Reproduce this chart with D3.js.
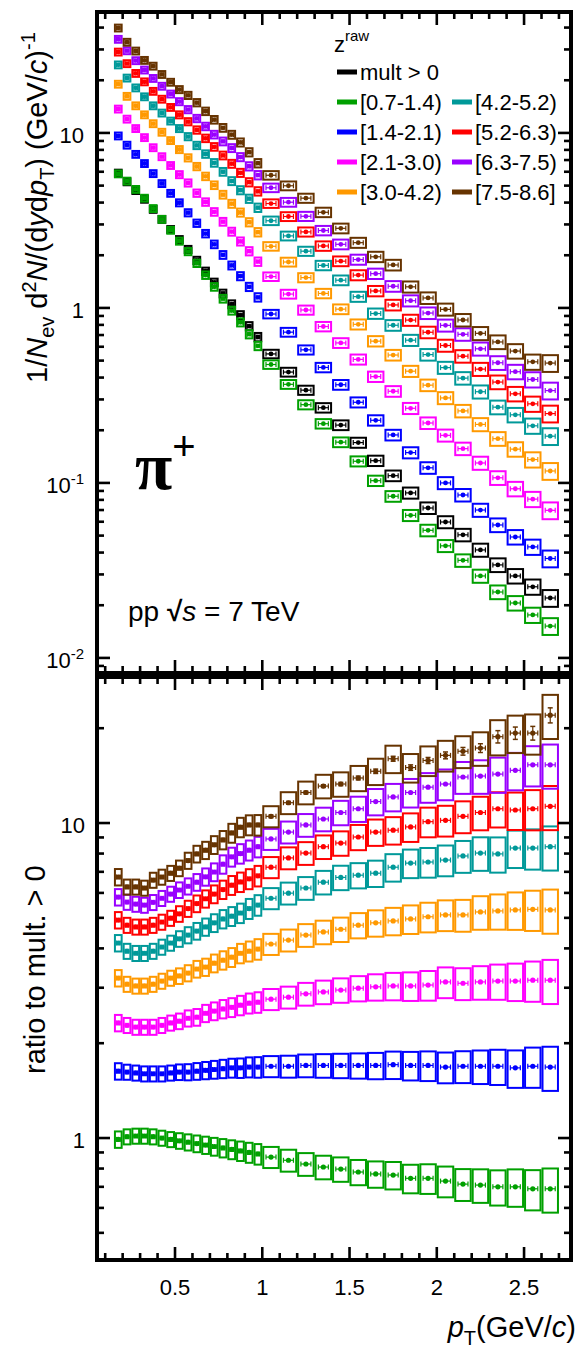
<!DOCTYPE html>
<html>
<head>
<meta charset="utf-8">
<script src="https://cdn.jsdelivr.net/npm/d3@7"></script>
<style>
  body { margin: 0; background: #fff; }
  svg { display: block; }
  text { font-family: "Liberation Sans", Arial, Helvetica, sans-serif; fill: #000; }
</style>
</head>
<body>
<svg id="chart" width="578" height="1352"></svg>
<script>
// pT bin edges (GeV/c)
const ptEdges = [0.15, 0.20, 0.25, 0.30, 0.35, 0.40, 0.45, 0.50, 0.55, 0.60, 0.65, 0.70, 0.75, 0.80, 0.85, 0.90, 0.95, 1.00,
                 1.10, 1.20, 1.30, 1.40, 1.50, 1.60, 1.70, 1.80, 1.90, 2.00, 2.10, 2.20, 2.30, 2.40, 2.50, 2.60, 2.70];

// multiplicity classes
const classNames = ["mult > 0", "[0.7-1.4)", "[1.4-2.1)", "[2.1-3.0)", "[3.0-4.2)", "[4.2-5.2)", "[5.2-6.3)", "[6.3-7.5)", "[7.5-8.6]"];
const classColors = ["#000000", "#00a000", "#0000ff", "#ff00ff", "#ff9900", "#009999", "#ff0000", "#9900ff", "#663300"];

// pi+ spectra, 1/Nev d2N/(dy dpT)
const specMult = [5.90, 5.26, 4.69, 4.18, 3.66, 3.21, 2.81, 2.46, 2.16, 1.87, 1.62, 1.40, 1.21, 1.05, 0.910, 0.787, 0.682,
                  0.546, 0.430, 0.339, 0.269, 0.214, 0.170, 0.134, 0.110, 0.0877, 0.0719, 0.0598, 0.0505, 0.0414, 0.0340, 0.0294, 0.0255, 0.0220];
const spec07 = [5.84, 5.31, 4.76, 4.24, 3.70, 3.21, 2.78, 2.41, 2.10, 1.80, 1.54, 1.32, 1.13, 0.966, 0.828, 0.708, 0.607,
                0.475, 0.366, 0.280, 0.218, 0.171, 0.133, 0.103, 0.0839, 0.0653, 0.0536, 0.0437, 0.0361, 0.0294, 0.0238, 0.0206, 0.0176, 0.0152];
const spec14 = [9.62, 8.52, 7.55, 6.69, 5.86, 5.14, 4.52, 3.99, 3.50, 3.05, 2.66, 2.31, 2.01, 1.75, 1.52, 1.32, 1.15,
                0.923, 0.727, 0.576, 0.457, 0.364, 0.289, 0.228, 0.188, 0.149, 0.122, 0.100, 0.0853, 0.0700, 0.0575, 0.0491, 0.0431, 0.0370];
const spec21 = [13.7, 12.0, 10.6, 9.41, 8.24, 7.32, 6.52, 5.78, 5.18, 4.53, 4.03, 3.54, 3.11, 2.73, 2.40, 2.11, 1.84,
                1.51, 1.20, 0.973, 0.783, 0.631, 0.508, 0.405, 0.334, 0.267, 0.220, 0.187, 0.157, 0.130, 0.107, 0.0926, 0.0808, 0.0697];
const spec30 = [19.0, 16.2, 14.3, 12.7, 11.3, 10.1, 9.05, 8.04, 7.21, 6.43, 5.65, 5.03, 4.44, 3.94, 3.51, 3.09, 2.71,
                2.25, 1.83, 1.49, 1.21, 0.984, 0.806, 0.646, 0.538, 0.435, 0.362, 0.306, 0.258, 0.216, 0.179, 0.156, 0.136, 0.117];
const spec42 = [24.5, 20.6, 18.1, 16.1, 14.3, 13.0, 11.7, 10.6, 9.53, 8.49, 7.58, 6.75, 6.00, 5.31, 4.71, 4.21, 3.74,
                3.15, 2.58, 2.11, 1.75, 1.44, 1.16, 0.929, 0.796, 0.654, 0.541, 0.456, 0.397, 0.332, 0.271, 0.245, 0.212, 0.185];
const spec52 = [29.0, 24.9, 21.9, 19.6, 17.3, 15.6, 14.0, 12.7, 11.6, 10.4, 9.32, 8.33, 7.44, 6.67, 5.92, 5.23, 4.64,
                3.95, 3.33, 2.72, 2.26, 1.85, 1.54, 1.25, 1.04, 0.852, 0.726, 0.610, 0.530, 0.447, 0.377, 0.323, 0.283, 0.249];
const spec63 = [34.3, 29.5, 25.9, 22.9, 20.5, 18.5, 16.7, 15.1, 13.6, 12.1, 10.9, 9.79, 8.95, 8.20, 7.28, 6.45, 5.74,
                4.86, 4.02, 3.34, 2.77, 2.31, 1.89, 1.57, 1.33, 1.10, 0.935, 0.795, 0.707, 0.584, 0.486, 0.432, 0.390, 0.337];
const spec75 = [39.8, 33.0, 29.4, 26.0, 24.1, 21.6, 19.5, 17.7, 16.4, 14.9, 13.3, 11.9, 10.7, 9.77, 8.83, 7.76, 6.72,
                5.73, 4.99, 4.24, 3.52, 2.85, 2.36, 1.96, 1.76, 1.32, 1.14, 0.981, 0.853, 0.716, 0.639, 0.567, 0.492, 0.484];

// ratios to mult > 0
const ratio07 = [0.99, 1.01, 1.015, 1.015, 1.01, 1.00, 0.99, 0.98, 0.97, 0.96, 0.95, 0.94, 0.93, 0.92, 0.91, 0.90, 0.89,
                 0.87, 0.85, 0.827, 0.809, 0.797, 0.78, 0.769, 0.763, 0.745, 0.745, 0.73, 0.714, 0.709, 0.70, 0.70, 0.69, 0.69];
const ratio14 = [1.63, 1.62, 1.61, 1.60, 1.60, 1.60, 1.61, 1.62, 1.62, 1.63, 1.64, 1.65, 1.66, 1.67, 1.67, 1.68, 1.68,
                 1.69, 1.69, 1.70, 1.70, 1.70, 1.70, 1.70, 1.71, 1.70, 1.70, 1.68, 1.69, 1.69, 1.69, 1.67, 1.69, 1.68];
const ratio21 = [2.32, 2.28, 2.25, 2.25, 2.25, 2.28, 2.32, 2.35, 2.40, 2.42, 2.49, 2.53, 2.57, 2.60, 2.64, 2.68, 2.70,
                 2.76, 2.80, 2.87, 2.91, 2.95, 2.99, 3.02, 3.04, 3.04, 3.06, 3.13, 3.10, 3.13, 3.15, 3.15, 3.17, 3.17];
const ratio30 = [3.22, 3.08, 3.04, 3.04, 3.08, 3.15, 3.22, 3.27, 3.34, 3.44, 3.49, 3.59, 3.67, 3.75, 3.86, 3.92, 3.98,
                 4.13, 4.25, 4.41, 4.51, 4.60, 4.74, 4.82, 4.89, 4.96, 5.04, 5.11, 5.11, 5.22, 5.26, 5.30, 5.32, 5.30];
const ratio42 = [4.16, 3.92, 3.86, 3.86, 3.92, 4.04, 4.16, 4.29, 4.41, 4.54, 4.68, 4.82, 4.96, 5.06, 5.18, 5.35, 5.49,
                 5.77, 5.99, 6.22, 6.49, 6.72, 6.83, 6.93, 7.24, 7.46, 7.52, 7.63, 7.86, 8.03, 7.98, 8.33, 8.33, 8.41];
const ratio52 = [4.92, 4.74, 4.68, 4.68, 4.74, 4.85, 4.99, 5.15, 5.35, 5.55, 5.75, 5.95, 6.15, 6.35, 6.50, 6.65, 6.80,
                 7.24, 7.75, 8.03, 8.41, 8.64, 9.03, 9.36, 9.49, 9.72, 10.1, 10.2, 10.5, 10.8, 11.1, 11.0, 11.1, 11.3];
const ratio63 = [5.82, 5.61, 5.53, 5.49, 5.60, 5.77, 5.95, 6.13, 6.30, 6.49, 6.75, 6.99, 7.40, 7.81, 8.00, 8.20, 8.41,
                 8.90, 9.36, 9.86, 10.3, 10.8, 11.1, 11.7, 12.1, 12.5, 13.0, 13.3, 14.0, 14.1, 14.3, 14.7, 15.3, 15.3];
const ratio75 = [6.74, 6.27, 6.27, 6.22, 6.59, 6.74, 6.93, 7.19, 7.60, 7.98, 8.20, 8.53, 8.84, 9.30, 9.70, 9.86, 9.86,
                 10.5, 11.6, 12.5, 13.1, 13.3, 13.9, 14.6, 16.0, 15.0, 15.8, 16.4, 16.9, 17.3, 18.8, 19.3, 19.3, 22.0];

// relative systematic uncertainties (boxes)
const sysSpec = [0.045, 0.045, 0.045, 0.045, 0.045, 0.045, 0.045, 0.046, 0.047, 0.048, 0.049, 0.050, 0.051, 0.052, 0.053, 0.054, 0.055,
                 0.056, 0.058, 0.060, 0.062, 0.064, 0.066, 0.068, 0.070, 0.073, 0.076, 0.079, 0.082, 0.086, 0.090, 0.095, 0.100, 0.110];
const sysRatio = [0.060, 0.055, 0.055, 0.055, 0.055, 0.055, 0.055, 0.057, 0.059, 0.061, 0.063, 0.065, 0.067, 0.069, 0.071, 0.073, 0.075,
                  0.077, 0.080, 0.083, 0.086, 0.089, 0.092, 0.096, 0.100, 0.104, 0.108, 0.112, 0.116, 0.122, 0.128, 0.136, 0.146, 0.160];
// relative statistical uncertainties of the highest class ratio
const statRatio75 = [0.01, 0.01, 0.01, 0.01, 0.01, 0.01, 0.01, 0.01, 0.01, 0.01, 0.01, 0.01, 0.01, 0.01, 0.01, 0.01, 0.01,
                     0.01, 0.01, 0.01, 0.01, 0.012, 0.014, 0.016, 0.018, 0.02, 0.022, 0.025, 0.028, 0.032, 0.045, 0.045, 0.05, 0.055];

// axis ticks
const xMajor = [0.5, 1, 1.5, 2, 2.5];
const xMinor = [0.1, 0.2, 0.3, 0.4, 0.6, 0.7, 0.8, 0.9, 1.1, 1.2, 1.3, 1.4, 1.6, 1.7, 1.8, 1.9, 2.1, 2.2, 2.3, 2.4, 2.6, 2.7];
const ySpecMajor = [0.01, 0.1, 1, 10];
const ySpecMajorLabels = [["10", "-2"], ["10", "-1"], ["1", ""], ["10", ""]];
const yRatioMajor = [1, 10];
const yRatioMajorLabels = ["1", "10"];

const spectra = [specMult, spec07, spec14, spec21, spec30, spec42, spec52, spec63, spec75];
const ratios = [null, ratio07, ratio14, ratio21, ratio30, ratio42, ratio52, ratio63, ratio75];

// ---------------- layout ----------------
const svg = d3.select("#chart");
const L = 97, R = 571;
const top1 = 12, bot1 = 673;
const top2 = 677, bot2 = 1260;

const x = d3.scaleLinear().domain([0.053, 2.769]).range([L, R]);
const ySpec = d3.scaleLog().domain([0.00820, 49.1]).range([bot1, top1]);
const yRatio = d3.scaleLog().domain([0.41, 29.08]).range([bot2, top2]);

function minorLogTicks(domain) {
  const out = [];
  const lo = Math.floor(Math.log10(domain[0])), hi = Math.ceil(Math.log10(domain[1]));
  for (let e = lo; e <= hi; e++) {
    for (let m = 2; m <= 9; m++) {
      const v = m * Math.pow(10, e);
      if (v > domain[0] && v < domain[1]) out.push(v);
    }
  }
  return out;
}

const MAJ = 13, MIN = 7;

function drawFrame(yScale, yTop, yBot, yMajor) {
  const g = svg.append("g");
  const tickStyle = s => s.attr("stroke", "#000").attr("stroke-width", 2.6);
  // x ticks on bottom (pointing up) and top (pointing down)
  xMajor.forEach(v => {
    tickStyle(g.append("line").attr("x1", x(v)).attr("x2", x(v)).attr("y1", yBot).attr("y2", yBot - MAJ));
    tickStyle(g.append("line").attr("x1", x(v)).attr("x2", x(v)).attr("y1", yTop).attr("y2", yTop + MAJ));
  });
  xMinor.forEach(v => {
    tickStyle(g.append("line").attr("x1", x(v)).attr("x2", x(v)).attr("y1", yBot).attr("y2", yBot - MIN));
    tickStyle(g.append("line").attr("x1", x(v)).attr("x2", x(v)).attr("y1", yTop).attr("y2", yTop + MIN));
  });
  yMajor.forEach(v => {
    tickStyle(g.append("line").attr("x1", L).attr("x2", L + MAJ).attr("y1", yScale(v)).attr("y2", yScale(v)));
    tickStyle(g.append("line").attr("x1", R).attr("x2", R - MAJ).attr("y1", yScale(v)).attr("y2", yScale(v)));
  });
  minorLogTicks(yScale.domain()).forEach(v => {
    tickStyle(g.append("line").attr("x1", L).attr("x2", L + MIN).attr("y1", yScale(v)).attr("y2", yScale(v)));
    tickStyle(g.append("line").attr("x1", R).attr("x2", R - MIN).attr("y1", yScale(v)).attr("y2", yScale(v)));
  });
  g.append("rect").attr("x", L).attr("y", yTop).attr("width", R - L).attr("height", yBot - yTop)
    .attr("fill", "none").attr("stroke", "#000").attr("stroke-width", 4);
}

function drawPoints(values, sys, stat, yScale, color, mr) {
  const g = svg.append("g");
  values.forEach((v, i) => {
    const lo = ptEdges[i], hi = ptEdges[i + 1];
    const cx = x((lo + hi) / 2);
    const x0 = x(lo) + 1, x1 = x(hi) - 1;
    const yHi = yScale(v * (1 + sys[i])), yLo = yScale(v * (1 - sys[i]));
    g.append("rect").attr("x", x0).attr("y", yHi).attr("width", x1 - x0).attr("height", yLo - yHi)
      .attr("fill", "none").attr("stroke", color).attr("stroke-width", 2);
    const cy = yScale(v);
    const hw = Math.min(5, (x1 - x0) / 2 - 1.5);
    g.append("line").attr("x1", cx - hw).attr("x2", cx + hw).attr("y1", cy).attr("y2", cy)
      .attr("stroke", color).attr("stroke-width", 1.2);
    [cx - hw, cx + hw].forEach(xc => g.append("line").attr("x1", xc).attr("x2", xc)
      .attr("y1", cy - 2.5).attr("y2", cy + 2.5).attr("stroke", color).attr("stroke-width", 1.2));
    if (stat) {
      const s1 = yScale(v * (1 + stat[i])), s0 = yScale(v * (1 - stat[i]));
      g.append("line").attr("x1", cx).attr("x2", cx).attr("y1", s1).attr("y2", s0)
        .attr("stroke", color).attr("stroke-width", 1.2);
      [s1, s0].forEach(yc => g.append("line").attr("x1", cx - 2.5).attr("x2", cx + 2.5)
        .attr("y1", yc).attr("y2", yc).attr("stroke", color).attr("stroke-width", 1.5));
    }
    g.append("circle").attr("cx", cx).attr("cy", cy).attr("r", mr).attr("fill", color);
  });
}

// ---------------- top panel: spectra ----------------
spectra.forEach((s, k) => drawPoints(s, sysSpec, null, ySpec, classColors[k], 2.4));
drawFrame(ySpec, top1, bot1, ySpecMajor);

// ---------------- bottom panel: ratios ----------------
ratios.forEach((r, k) => {
  if (!r) return;
  drawPoints(r, sysRatio, k === 8 ? statRatio75 : null, yRatio, classColors[k], 2.6);
});
drawFrame(yRatio, top2, bot2, yRatioMajor);

// ---------------- tick labels ----------------
const lab = svg.append("g").style("font-size", "22px");
ySpecMajor.forEach((v, i) => {
  const [base, sup] = ySpecMajorLabels[i];
  const t = lab.append("text").attr("y", ySpec(v) + 10).attr("x", 84).attr("text-anchor", "end");
  t.append("tspan").text(base);
  if (sup) t.append("tspan").attr("dy", -9).style("font-size", "15px").text(sup);
});
yRatioMajor.forEach((v, i) => {
  lab.append("text").attr("x", 85).attr("y", yRatio(v) + 10).attr("text-anchor", "end").text(yRatioMajorLabels[i]);
});
xMajor.forEach(v => {
  lab.append("text").attr("x", x(v)).attr("y", 1295).attr("text-anchor", "middle").text(String(v));
});

// ---------------- axis titles ----------------
const yt1 = svg.append("text").attr("transform", "translate(47,383) rotate(-90)").style("font-size", "29px");
yt1.append("tspan").text("1/");
yt1.append("tspan").style("font-style", "italic").text("N");
yt1.append("tspan").attr("dy", 7).style("font-size", "20px").text("ev");
yt1.append("tspan").attr("dy", -7).text(" d");
yt1.append("tspan").attr("dy", -11).style("font-size", "20px").text("2");
yt1.append("tspan").attr("dy", 11).style("font-style", "italic").text("N");
yt1.append("tspan").text("/(d");
yt1.append("tspan").style("font-style", "italic").text("y");
yt1.append("tspan").text("d");
yt1.append("tspan").style("font-style", "italic").text("p");
yt1.append("tspan").attr("dy", 7).style("font-size", "20px").text("T");
yt1.append("tspan").attr("dy", -7).text(") (GeV/");
yt1.append("tspan").style("font-style", "italic").text("c");
yt1.append("tspan").text(")");
yt1.append("tspan").attr("dy", -12).style("font-size", "20px").text("-1");

svg.append("text").attr("transform", "translate(45,1074) rotate(-90)").style("font-size", "29px").text("ratio to mult. > 0");

const xt = svg.append("text").attr("x", 576).attr("y", 1337).attr("text-anchor", "end").style("font-size", "29px");
xt.append("tspan").style("font-style", "italic").text("p");
xt.append("tspan").attr("dy", 8).style("font-size", "20px").text("T");
xt.append("tspan").attr("dy", -8).text("(GeV/");
xt.append("tspan").style("font-style", "italic").text("c");
xt.append("tspan").text(")");

// ---------------- annotations ----------------
const pi = svg.append("text").attr("x", 135).attr("y", 489).style("font-family", "'Liberation Serif', 'DejaVu Serif', serif").style("font-size", "68px");
pi.append("tspan").style("font-weight", "bold").text("\u03c0");
pi.append("tspan").attr("dy", -29).style("font-size", "40px").style("font-family", "'Liberation Sans', Arial, sans-serif").text("+");

const pp = svg.append("text").attr("x", 128).attr("y", 621).style("font-size", "28px");
pp.append("tspan").text("pp ");
pp.append("tspan").style("font-weight", "bold").text("\u221a");
pp.append("tspan").style("font-style", "italic").text("s");
pp.append("tspan").text(" = 7 TeV");

// ---------------- legend ----------------
const leg = svg.append("g").style("font-size", "22px");
const zt = leg.append("text").attr("x", 334).attr("y", 52);
zt.append("tspan").text("z");
zt.append("tspan").attr("dy", -11).style("font-size", "15px").text("raw");

const legendCells = [
  { k: 0, col: 0, row: 0 },
  { k: 1, col: 0, row: 1 }, { k: 2, col: 0, row: 2 }, { k: 3, col: 0, row: 3 }, { k: 4, col: 0, row: 4 },
  { k: 5, col: 1, row: 1 }, { k: 6, col: 1, row: 2 }, { k: 7, col: 1, row: 3 }, { k: 8, col: 1, row: 4 }
];
legendCells.forEach(c => {
  const bx = c.col === 0 ? 337 : 452;
  const by = 72 + c.row * 30;
  leg.append("rect").attr("x", bx).attr("y", by - 2.5).attr("width", 20).attr("height", 5).attr("fill", classColors[c.k]);
  leg.append("text").attr("x", bx + 23).attr("y", by + 8).text(classNames[c.k]);
});
</script>
</body>
</html>
